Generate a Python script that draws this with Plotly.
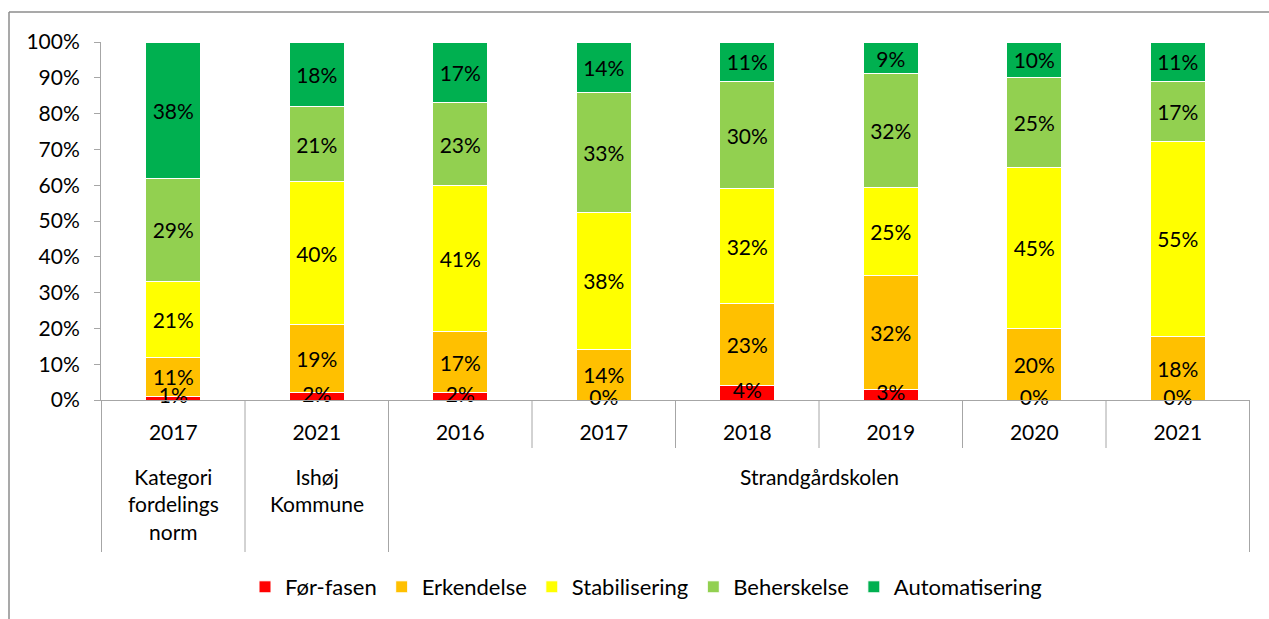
import plotly.graph_objects as go

# ---- data ----
groups = ["Kategori<br>fordelings<br>norm", "Ishøj<br>Kommune",
          "Strandgårdskolen", "Strandgårdskolen", "Strandgårdskolen",
          "Strandgårdskolen", "Strandgårdskolen", "Strandgårdskolen"]
years = ["2017", "2021", "2016", "2017", "2018", "2019", "2020", "2021"]

for_fasen = [1, 2, 2, 0, 4, 3, 0, 0]
erkendelse = [11, 19, 17, 14, 23, 32, 20, 18]
stabilisering = [21, 40, 41, 38, 32, 25, 45, 55]
beherskelse = [29, 21, 23, 33, 30, 32, 25, 17]
automatisering = [38, 18, 17, 14, 11, 9, 10, 11]

series_names = ["Før-fasen", "Erkendelse", "Stabilisering", "Beherskelse", "Automatisering"]
series_vals = [for_fasen, erkendelse, stabilisering, beherskelse, automatisering]
colors = ["#FF0000", "#FFC000", "#FFFF00", "#92D050", "#00B050"]

FONT = "Lato"
FS = 21
GRID = "#a6a6a6"

keys = [f"{g.replace('<br>', ' ')} {y}" for g, y in zip(groups, years)]

fig = go.Figure()
for i, (name, vals, col) in enumerate(zip(series_names, series_vals, colors)):
    fig.add_trace(go.Bar(
        x=keys, y=vals, name=name,
        marker=dict(color=col, line=dict(color="white", width=1)),
        text=None if i == 0 else [f"{v}%" for v in vals],
        textposition="none" if i == 0 else "inside",
        insidetextanchor="middle",
        insidetextfont=dict(color="black", size=FS, family=FONT),
        hoverinfo="name+y",
    ))

# labels for the thin first series, centred on the segment
fig.add_trace(go.Scatter(
    x=keys, y=[v / 2 for v in for_fasen], mode="text",
    text=[f"{v}%" for v in for_fasen],
    textfont=dict(color="black", size=FS, family=FONT),
    showlegend=False, cliponaxis=False, hoverinfo="skip",
))

W, H = 1269, 619
L, R, T, B = 101, 19, 42, 219
pw = W - L - R
ph = H - T - B
BASE = T + ph  # pixel row of the x axis


def py(px):
    """pixel row -> paper y"""
    return (BASE - px) / ph


def pxx(px):
    """pixel column -> paper x"""
    return (px - L) / pw


fig.update_layout(
    width=W, height=H,
    margin=dict(l=L, r=R, t=T, b=B, autoexpand=False),
    barmode="stack", barnorm="percent", bargap=0.617,
    plot_bgcolor="white", paper_bgcolor="white",
    font=dict(family=FONT, size=FS, color="black"),
    uniformtext=dict(minsize=FS, mode="show"),
    showlegend=True,
    legend=dict(orientation="h", traceorder="normal",
                x=pxx(646), xanchor="center",
                y=py(587), yanchor="middle",
                font=dict(size=22, family=FONT)),
    xaxis=dict(type="category", showline=True, linecolor=GRID, linewidth=1,
               ticks="", tickvals=keys, ticktext=years, ticklabelstandoff=14,
               tickfont=dict(size=FS, family=FONT), showgrid=False),
    yaxis=dict(range=[0, 100.02], dtick=10, ticksuffix="%", showline=True,
               linecolor=GRID, linewidth=1, ticks="outside", ticklen=6,
               tickcolor=GRID, showgrid=False, zeroline=False,
               tickfont=dict(size=FS, family=FONT), ticklabelstandoff=10),
)

# category dividers below the axis: short between years, long between groups
for i in range(len(keys) + 1):
    is_group_edge = i == 0 or i == len(keys) or groups[i] != groups[i - 1]
    bottom = 552 if is_group_edge else 448
    fig.add_shape(type="line", xref="x", yref="paper",
                  x0=i - 0.5, x1=i - 0.5, y0=0, y1=py(bottom),
                  line=dict(color=GRID, width=1))

# group labels centred under their categories
seen = []
for g in groups:
    if g not in seen:
        seen.append(g)
for g in seen:
    idx = [i for i, gg in enumerate(groups) if gg == g]
    fig.add_annotation(x=sum(idx) / len(idx), xref="x", y=py(462), yref="paper",
                       text=g, showarrow=False, yanchor="top",
                       font=dict(size=FS, family=FONT, color="black"))

# outer chart frame (top and left edges visible in the reference)
fig.add_shape(type="line", xref="paper", yref="paper",
              x0=pxx(9), x1=pxx(W + 5), y0=py(12), y1=py(12),
              line=dict(color="#8c8c8c", width=1.5))
fig.add_shape(type="line", xref="paper", yref="paper",
              x0=pxx(9), x1=pxx(9), y0=py(12), y1=py(H + 5),
              line=dict(color="#8c8c8c", width=1.5))

fig.write_html("out.html", config={"displayModeBar": False},
               post_script="document.body.style.margin='0px';")
